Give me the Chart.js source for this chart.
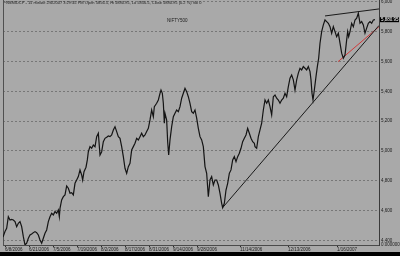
<!DOCTYPE html>
<html>
<head>
<meta charset="utf-8">
<script src="https://cdn.jsdelivr.net/npm/chart.js@4.4.0/dist/chart.umd.min.js"></script>
<style>
    html, body { margin: 0; padding: 0; background: #000; }
    #wrap { width: 400px; height: 252px; background: #a9a9a9; }
</style>
</head>
<body>
<div id="wrap"><canvas id="myChart" width="400" height="252"></canvas></div>
<script>
/* 15 minute closes, x = bar slot */
const barSlot = [
    0, 6, 11, 16, 21, 26, 31, 36, 41, 46, 51, 56, 61, 66, 71, 76, 81, 86, 91, 96,
    101, 106, 111, 116, 121, 126, 131, 136, 141, 146, 151, 156, 161, 166, 169, 171, 176, 181, 186, 191,
    196, 201, 206, 211, 216, 221, 226, 231, 236, 239, 243, 249, 253, 256, 261, 266, 271, 276, 281, 286,
    291, 296, 301, 306, 311, 316, 321, 326, 331, 336, 341, 346, 351, 356, 361, 366, 371, 376, 381,
    386, 391, 396, 401, 406, 411, 416, 421, 426, 431, 436, 441, 446, 451, 454, 461, 466, 471, 474, 478,
    481, 484, 486, 491, 494, 497, 501, 506, 511, 516, 521, 526, 531, 536, 541, 546, 551, 556, 561, 566,
    571, 576, 581, 586, 591, 596, 601, 606, 611, 616, 621, 626, 631, 636, 641, 646, 651, 656, 659, 664,
    669, 674, 679, 684, 689, 694, 699, 704, 709, 714, 719, 724, 729, 734, 739, 744, 749, 754,
    756, 761, 766, 771, 776, 781, 786, 791, 796, 801, 806, 811, 816, 821, 826, 831, 836, 841, 846, 851,
    856, 861, 866, 871, 876, 881, 886, 891, 896, 901, 906, 911, 916, 921, 924, 927, 930, 934, 939, 943,
    947, 951, 956, 961, 966, 971, 976, 981, 986, 991, 996, 1001, 1006, 1011, 1016, 1021, 1026, 1031, 1034, 1037,
    1041, 1046, 1051, 1056, 1061, 1066, 1071, 1076, 1081, 1086, 1091, 1096, 1101, 1106, 1111, 1116
];
const closePrice = [
    4423, 4459, 4481, 4559, 4537, 4541, 4537, 4526, 4492, 4515, 4526, 4492, 4425, 4369, 4381, 4414, 4436, 4443, 4452, 4459,
    4452, 4436, 4403, 4381, 4414, 4448, 4470, 4526, 4559, 4582, 4571, 4593, 4582, 4604, 4559, 4615, 4671, 4693, 4705, 4765,
    4750, 4716, 4720, 4705, 4783, 4805, 4828, 4873, 4839, 4805, 4861, 4891, 4940, 4995, 5029, 5018, 5040, 5029, 5096, 5119,
    4973, 4995, 5062, 5085, 5092, 5101, 5096, 5107, 5141, 5163, 5130, 5096, 5085, 5029, 4962, 4884, 4850, 4895, 4917,
    5007, 5029, 5052, 5085, 5074, 5096, 5119, 5096, 5107, 5130, 5152, 5208, 5275, 5230, 5297, 5320, 5342, 5387, 5409, 5387,
    5320, 5186, 5253, 5208, 5062, 4973, 5074, 5163, 5230, 5253, 5275, 5264, 5297, 5354, 5387, 5421, 5398, 5364, 5320, 5264,
    5253, 5275, 5220, 5152, 5096, 5074, 5029, 4895, 4850, 4693, 4805, 4828, 4772, 4805, 4805, 4772, 4716, 4649, 4620, 4649,
    4738, 4783, 4850, 4873, 4940, 4962, 4928, 4962, 4985, 5018, 5062, 5085, 5107, 5152, 5119, 5085, 5062, 5052,
    5029, 5018, 5096, 5141, 5186, 5275, 5342, 5320, 5342, 5297, 5242, 5364, 5376, 5354, 5342, 5320, 5342, 5354, 5387, 5364,
    5432, 5488, 5510, 5477, 5409, 5477, 5522, 5555, 5544, 5566, 5555, 5544, 5566, 5532, 5477, 5387, 5342, 5409, 5499, 5566,
    5622, 5723, 5801, 5846, 5879, 5868, 5857, 5834, 5790, 5834, 5801, 5767, 5790, 5723, 5656, 5622, 5644, 5745, 5801, 5767,
    5801, 5857, 5834, 5879, 5891, 5924, 5857, 5868, 5846, 5790, 5824, 5857, 5868, 5857, 5879, 5880.95
];

/* trend lines drawn on the chart: [slot, price] ends */
const supportLine = [[659, 4620], [1128, 5842]];
const topLine = [[966, 5906], [1128, 5953]];
const redLine = [[1005, 5599], [1128, 5834]];

const dateSlots = [6, 78, 150, 222, 294, 366, 438, 510, 582, 711, 855, 1002];
const dateLabels = ['6/8/2006', '6/21/2006', '7/5/2006', '7/19/2006', '8/2/2006', '8/17/2006',
    '8/31/2006', '9/14/2006', '9/28/2006', '11/14/2006', '12/13/2006', '1/16/2007'];
const priceTicks = [4400, 4600, 4800, 5000, 5200, 5400, 5600, 5800, 6000];

const headerText = '^NSMIDCP - 15 minute 2/6/2007 3:29:45 PM Open 5856.5, Hi 5880.95, Lo 5856.5, Close 5880.95 (0.2 %) Vol 0';
const indexName = 'NIFTY500';

const yMin = 4369;
const yMax = 6013;
const font = '"Liberation Sans", Arial, sans-serif';

const toPts = arr => arr.map(p => ({ x: p[0], y: p[1] }));

const overlayText = {
    id: 'overlayText',
    afterDraw(chart) {
        const { ctx, chartArea: { left, right, top }, scales: { y } } = chart;
        ctx.save();
        ctx.fillStyle = '#1c1c1c';
        ctx.textAlign = 'left';
        ctx.textBaseline = 'top';
        ctx.font = '4px ' + font;
        ctx.fillText(headerText, left + 1, top + 1);
        ctx.font = '4.5px ' + font;
        ctx.fillText(indexName, left + 164, top + 19);

        // last price box on the axis
        const last = closePrice[closePrice.length - 1];
        const py = y.getPixelForValue(last);
        ctx.fillStyle = '#000';
        ctx.fillRect(right + 1, py - 2.5, 19, 5);
        ctx.fillStyle = '#fff';
        ctx.textBaseline = 'middle';
        ctx.fillText(last.toLocaleString('en-US', { minimumFractionDigits: 2 }), right + 2, py + 0.3);
        ctx.restore();
    }
};

const ctx = document.getElementById('myChart');
const myChart = new Chart(ctx, {
    type: 'line',
    data: {
        datasets: [{
            label: indexName,
            data: closePrice.map((c, i) => ({ x: barSlot[i], y: c })),
            borderColor: '#141414',
            borderWidth: 1.2,
            pointRadius: 0,
            tension: 0,
            yAxisID: 'y'
        }, {
            data: toPts(supportLine),
            borderColor: '#1a1a1a',
            borderWidth: 1,
            pointRadius: 0,
            yAxisID: 'y'
        }, {
            data: toPts(topLine),
            borderColor: '#1a1a1a',
            borderWidth: 1,
            pointRadius: 0,
            yAxisID: 'y'
        }, {
            data: toPts(redLine),
            borderColor: '#d03a3a',
            borderWidth: 1,
            pointRadius: 0,
            yAxisID: 'y'
        }]
    },
    options: {
        responsive: false,
        animation: false,
        layout: { padding: 0, autoPadding: false },
        plugins: {
            legend: { display: false },
            tooltip: { enabled: false }
        },
        scales: {
            x: {
                type: 'linear',
                position: 'bottom',
                min: 0,
                max: 1128,
                afterBuildTicks: s => { s.ticks = dateSlots.map(v => ({ value: v })); },
                afterFit: s => { s.height = 7; s.paddingLeft = 0; s.paddingRight = 0; },
                ticks: {
                    autoSkip: false,
                    maxRotation: 0,
                    align: 'start',
                    padding: 0,
                    color: '#1c1c1c',
                    font: { size: 4.5, family: font },
                    callback: (v, i) => dateLabels[i]
                },
                grid: { drawOnChartArea: false, drawTicks: true, tickLength: 2, tickColor: '#2a2a2a' },
                border: { display: true, color: '#4a4a4a', width: 1 }
            },
            y: {
                type: 'linear',
                position: 'right',
                min: yMin,
                max: yMax,
                afterBuildTicks: s => {
                    s.ticks = [{ value: yMin }].concat(priceTicks.map(v => ({ value: v })));
                },
                afterFit: s => { s.width = 21; s.paddingTop = 0; s.paddingBottom = 0; },
                ticks: {
                    padding: 2,
                    color: '#1c1c1c',
                    font: { size: 4.5, family: font },
                    callback: v => v === yMin ? '0.000000' : v.toLocaleString('en-US')
                },
                grid: {
                    drawTicks: false,
                    color: c => c.tick && c.tick.value === yMin ? 'rgba(0,0,0,0)' : '#777777'
                },
                border: { display: true, color: '#3a3a3a', width: 1, dash: [2, 2] }
            },
            yl: {
                type: 'linear',
                position: 'left',
                min: 0,
                max: 1,
                ticks: { display: false },
                grid: { display: false, drawTicks: false },
                afterFit: s => { s.width = 3; },
                border: { display: true, color: '#505050', width: 1 }
            }
        }
    },
    plugins: [overlayText]
});
</script>
</body>
</html>
